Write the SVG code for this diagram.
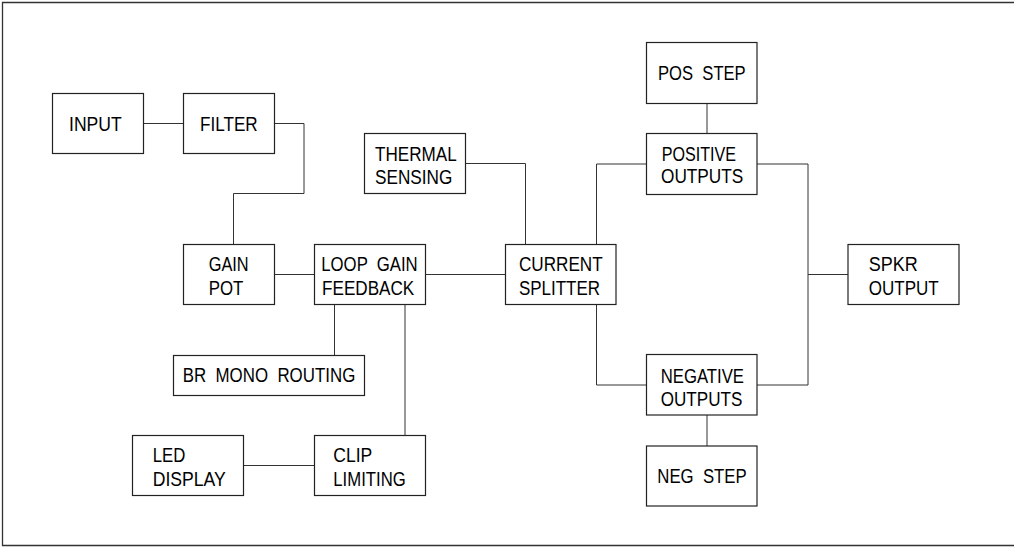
<svg xmlns="http://www.w3.org/2000/svg" width="1014" height="549" viewBox="0 0 1014 549">
<style>
.box{fill:#fff;stroke:#222;stroke-width:1.2}
.frame{fill:none;stroke:#333;stroke-width:1.3}
.conn{fill:none;stroke:#333;stroke-width:1}
text{font-family:"Liberation Sans",Arial,sans-serif;font-size:20px;fill:#000}
</style>
<rect width="1014" height="549" fill="#fff"/>
<path class="frame" d="M1016,2.5 H2.5 V545.5 H1016"/>
<g id="connectors">
<path class="conn" d="M143.5,123.5 H183.5"/>
<path class="conn" d="M274.5,123.5 H304 V193.5 H233.5 V244.5"/>
<path class="conn" d="M274.5,274.5 H314.5"/>
<path class="conn" d="M425.5,274.5 H505.5"/>
<path class="conn" d="M334.5,304.5 V355.5"/>
<path class="conn" d="M405,304.5 V435.5"/>
<path class="conn" d="M243.5,465.5 H314.5"/>
<path class="conn" d="M465.5,163.5 H525.5 V244.5"/>
<path class="conn" d="M596.5,244.5 V164 H646.5"/>
<path class="conn" d="M596.5,304.5 V385 H646.5"/>
<path class="conn" d="M707,103.5 V133.5"/>
<path class="conn" d="M707,415 V446"/>
<path class="conn" d="M757,164 H808 V385 H757"/>
<path class="conn" d="M808,274.5 H848"/>
</g>
<g id="input"><rect class="box" x="52.5" y="93.5" width="91" height="60"/><text x="69" y="131" textLength="52.7" lengthAdjust="spacingAndGlyphs">INPUT</text></g>
<g id="filter"><rect class="box" x="183.5" y="93.5" width="91" height="60"/><text x="200" y="131" textLength="57.7" lengthAdjust="spacingAndGlyphs">FILTER</text></g>
<g id="thermal"><rect class="box" x="364.5" y="133.5" width="101" height="60"/><text x="375" y="161" textLength="81.7" lengthAdjust="spacingAndGlyphs">THERMAL</text><text x="375" y="184" textLength="77.3" lengthAdjust="spacingAndGlyphs">SENSING</text></g>
<g id="gainpot"><rect class="box" x="183.5" y="244.5" width="91" height="60"/><text x="208.7" y="271.3" textLength="40" lengthAdjust="spacingAndGlyphs">GAIN</text><text x="208.7" y="294.7" textLength="34.6" lengthAdjust="spacingAndGlyphs">POT</text></g>
<g id="loopgain"><rect class="box" x="314.5" y="244.5" width="111" height="60"/><text x="321.3" y="271.3" textLength="96.4" lengthAdjust="spacingAndGlyphs" xml:space="preserve">LOOP  GAIN</text><text x="322" y="294.7" textLength="92.3" lengthAdjust="spacingAndGlyphs">FEEDBACK</text></g>
<g id="current"><rect class="box" x="505.5" y="244.5" width="110.5" height="60"/><text x="519" y="271" textLength="83.7" lengthAdjust="spacingAndGlyphs">CURRENT</text><text x="519" y="295" textLength="81" lengthAdjust="spacingAndGlyphs">SPLITTER</text></g>
<g id="brmono"><rect class="box" x="173.5" y="355.5" width="191" height="40"/><text x="182.7" y="382.3" textLength="172.6" lengthAdjust="spacingAndGlyphs" xml:space="preserve">BR  MONO  ROUTING</text></g>
<g id="led"><rect class="box" x="132.5" y="435.5" width="111" height="60"/><text x="152.7" y="462.3" textLength="32.6" lengthAdjust="spacingAndGlyphs">LED</text><text x="152.7" y="486" textLength="73" lengthAdjust="spacingAndGlyphs">DISPLAY</text></g>
<g id="clip"><rect class="box" x="314.5" y="435.5" width="111" height="60"/><text x="333.3" y="462.3" textLength="39" lengthAdjust="spacingAndGlyphs">CLIP</text><text x="333.3" y="486" textLength="72.4" lengthAdjust="spacingAndGlyphs">LIMITING</text></g>
<g id="posstep"><rect class="box" x="646.5" y="42.5" width="110.5" height="61"/><text x="658" y="80" textLength="87.7" lengthAdjust="spacingAndGlyphs" xml:space="preserve">POS  STEP</text></g>
<g id="positive"><rect class="box" x="646.5" y="133.5" width="110.5" height="61"/><text x="661.7" y="160.7" textLength="74.3" lengthAdjust="spacingAndGlyphs">POSITIVE</text><text x="661" y="183.3" textLength="82.3" lengthAdjust="spacingAndGlyphs">OUTPUTS</text></g>
<g id="spkr"><rect class="box" x="848" y="244.5" width="111" height="60"/><text x="868.7" y="270.7" textLength="49" lengthAdjust="spacingAndGlyphs">SPKR</text><text x="868.7" y="294.7" textLength="70" lengthAdjust="spacingAndGlyphs">OUTPUT</text></g>
<g id="negative"><rect class="box" x="646.5" y="354.5" width="110.5" height="60.5"/><text x="660.7" y="382.7" textLength="83.3" lengthAdjust="spacingAndGlyphs">NEGATIVE</text><text x="660.7" y="406" textLength="81.6" lengthAdjust="spacingAndGlyphs">OUTPUTS</text></g>
<g id="negstep"><rect class="box" x="646.5" y="446" width="110.5" height="60"/><text x="657.3" y="483.3" textLength="89.4" lengthAdjust="spacingAndGlyphs" xml:space="preserve">NEG  STEP</text></g>
</svg>
